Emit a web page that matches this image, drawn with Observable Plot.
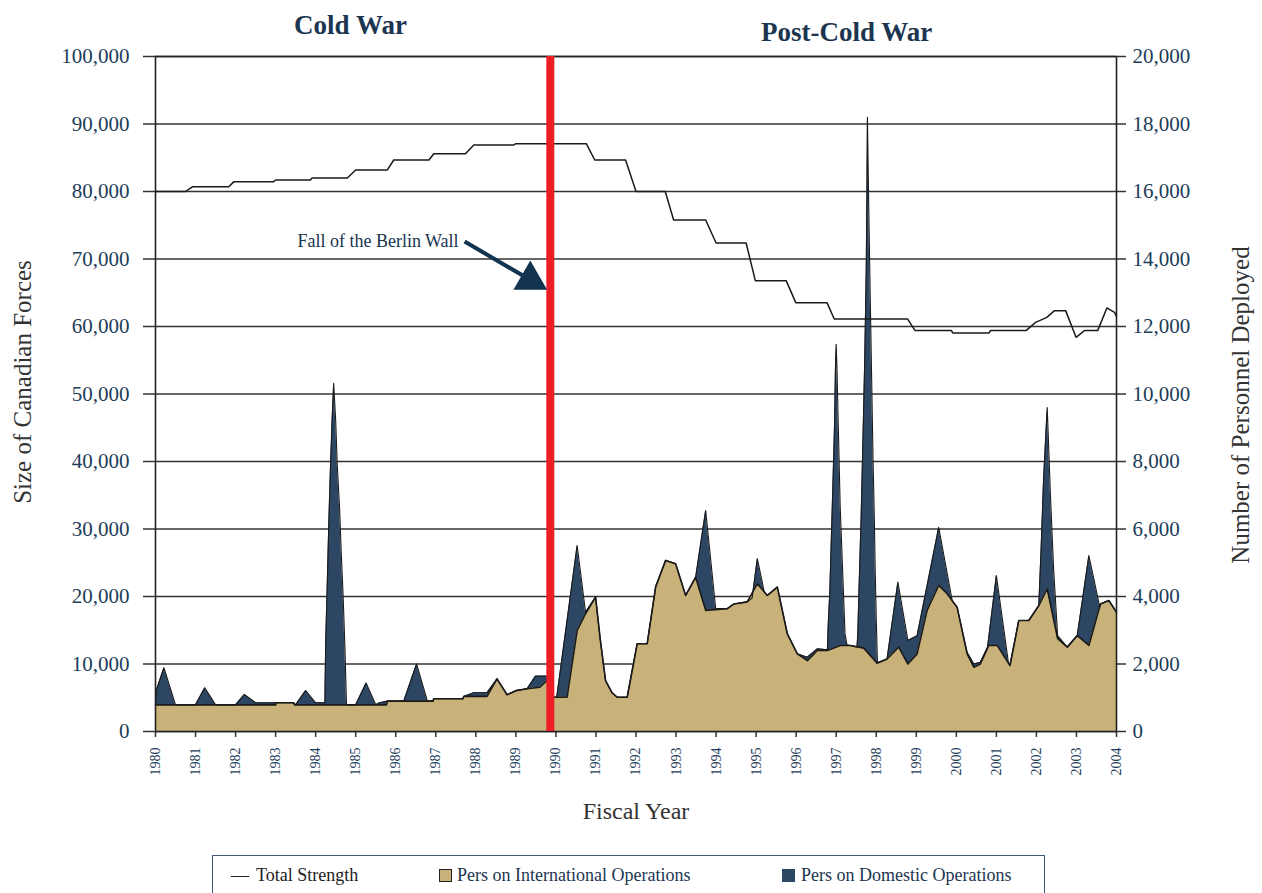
<!DOCTYPE html>
<html>
<head>
<meta charset="utf-8">
<script src="https://cdn.jsdelivr.net/npm/d3@7"></script>
<script src="https://cdn.jsdelivr.net/npm/@observablehq/plot@0.6"></script>
<style>
  body { margin: 0; background: #fff; font-family: "Liberation Serif", serif; }
  #wrap { position: relative; width: 1262px; height: 893px; overflow: hidden; background: #fff; }
  #wrap svg { position: absolute; left: 0; top: 0; }
  .legend { position: absolute; left: 212px; top: 855px; width: 833px; height: 60px; border: 1.5px solid #3e5a78; box-sizing: border-box; }
  .legend span { position: absolute; top: 8px; font-size: 18px; white-space: nowrap; line-height: 22px; }
  .sw { position: absolute; top: 13px; width: 11px; height: 11px; border: 1px solid #222; }
</style>
</head>
<body>
<div id="wrap">
  <div class="legend">
    <span style="left:18px;color:#222;">&#8212;</span>
    <span style="left:43px;color:#222;">Total Strength</span>
    <div class="sw" style="left:226px;background:#c9b27a;"></div>
    <span style="left:244px;color:#1c3550;">Pers on International Operations</span>
    <div class="sw" style="left:569px;background:#2c4664;border-color:#2c4664;"></div>
    <span style="left:588px;color:#1c3550;">Pers on Domestic Operations</span>
  </div>
</div>
<script>
// ---------- data ----------
const yearTicks = [1980, 1981, 1982, 1983, 1984, 1985, 1986, 1987, 1988, 1989, 1990, 1991, 1992,
  1993, 1994, 1995, 1996, 1997, 1998, 1999, 2000, 2001, 2002, 2003, 2004];
const strengthTicks = [0, 10000, 20000, 30000, 40000, 50000, 60000, 70000, 80000, 90000, 100000];
const deployedTicks = [0, 2000, 4000, 6000, 8000, 10000, 12000, 14000, 16000, 18000, 20000];

// Total strength of the Canadian Forces (left axis)
const strengthYears = [1980.0, 1980.75, 1980.92, 1981.83, 1981.96, 1982.95, 1983.0, 1983.87, 1983.91,
  1984.79, 1985.0, 1985.79, 1985.95, 1986.83, 1986.95, 1987.74, 1987.95, 1988.95, 1989.0, 1990.76,
  1990.97, 1991.74, 1992.0, 1992.73, 1992.94, 1993.74, 1994.0, 1994.75, 1994.98, 1995.75, 1995.99,
  1996.77, 1996.95, 1998.78, 1998.97, 1999.88, 1999.91, 2000.82, 2000.85, 2001.74, 2001.98, 2002.26,
  2002.45, 2002.73, 2002.99, 2003.2, 2003.53, 2003.76, 2003.95, 2004.0];
const strengthValues = [80000, 80000, 80700, 80700, 81460, 81460, 81700, 81700, 82000,
  82000, 83190, 83190, 84670, 84670, 85600, 85600, 86890, 86890, 87080, 87080,
  84670, 84670, 80000, 80000, 75780, 75780, 72370, 72370, 66790, 66790, 63530,
  63530, 61120, 61120, 59390, 59390, 59050, 59050, 59390, 59390, 60620, 61360,
  62350, 62350, 58400, 59390, 59390, 62750, 62100, 61500];

// Personnel on international operations (right axis)
const intlYears = [1980.0, 1983.0, 1983.02, 1983.45, 1983.47, 1985.77, 1985.79, 1986.93, 1986.95,
  1987.68, 1987.7, 1988.28, 1988.53, 1988.78, 1989.0, 1989.28, 1989.6, 1989.78, 1989.92, 1990.28,
  1990.53, 1990.74, 1990.99, 1991.11, 1991.24, 1991.4, 1991.53, 1991.78, 1992.03, 1992.28, 1992.49,
  1992.74, 1992.99, 1993.24, 1993.49, 1993.74, 1994.28, 1994.45, 1994.78, 1995.03, 1995.28, 1995.53,
  1995.78, 1996.03, 1996.28, 1996.53, 1996.78, 1997.1, 1997.36, 1997.69, 1998.02, 1998.27, 1998.56,
  1998.79, 1999.02, 1999.27, 1999.56, 1999.77, 2000.02, 2000.27, 2000.44, 2000.6, 2000.81, 2001.02,
  2001.34, 2001.56, 2001.81, 2002.06, 2002.27, 2002.53, 2002.77, 2003.02, 2003.31, 2003.6, 2003.81, 2004.0];
const intlValues = [790, 790, 850, 850, 790, 790, 900, 900, 970,
  970, 1040, 1040, 1560, 1090, 1210, 1265, 1310, 1510, 1015, 1015,
  2990, 3490, 3980, 2700, 1510, 1150, 1015, 1015, 2600, 2600, 4280,
  5070, 4970, 4030, 4570, 3590, 3640, 3780, 3840, 4380, 4030, 4280,
  2890, 2300, 2100, 2400, 2400, 2550, 2550, 2470, 2025, 2150, 2500,
  2000, 2300, 3590, 4330, 4080, 3680, 2300, 1900, 2000, 2550, 2550,
  1955, 3290, 3290, 3730, 4230, 2750, 2500, 2840, 2550, 3780, 3880, 3535];

// Top of the stack: international + domestic operations (right axis)
const deployedYears = [1980.0, 1980.02, 1980.21, 1980.5, 1981.0, 1981.23, 1981.5, 1982.0, 1982.22, 1982.5,
  1983.45, 1983.5, 1983.75, 1984.0, 1984.23, 1984.25, 1984.29, 1984.33, 1984.37, 1984.41, 1984.45,
  1984.5, 1984.54, 1984.6, 1984.64, 1984.69, 1984.73, 1984.77, 1985.0, 1985.26, 1985.5, 1985.6,
  1985.79, 1986.2, 1986.52, 1986.79, 1986.93, 1986.95, 1987.68, 1987.7, 1987.95, 1988.28, 1988.53,
  1988.78, 1989.0, 1989.28, 1989.49, 1989.78, 1989.92, 1990.02, 1990.53, 1990.74, 1990.99, 1991.11,
  1991.24, 1991.4, 1991.53, 1991.78, 1992.03, 1992.28, 1992.49, 1992.74, 1992.99, 1993.24, 1993.49,
  1993.74, 1993.99, 1994.28, 1994.45, 1994.78, 1994.9, 1995.03, 1995.2, 1995.28, 1995.53, 1995.78,
  1996.03, 1996.28, 1996.53, 1996.78, 1996.8, 1996.84, 1996.88, 1996.92, 1996.96, 1996.98, 1997.0,
  1997.02, 1997.05, 1997.1, 1997.16, 1997.22, 1997.27, 1997.36, 1997.52, 1997.54, 1997.57, 1997.6,
  1997.62, 1997.65, 1997.68, 1997.71, 1997.73, 1997.75, 1997.76, 1997.77, 1997.78, 1997.8, 1997.84,
  1997.88, 1997.92, 1997.95, 1997.97, 1998.0, 1998.03, 1998.27, 1998.54, 1998.79, 1999.02, 1999.56,
  1999.9, 2000.02, 2000.27, 2000.44, 2000.6, 2000.78, 2001.0, 2001.3, 2001.34, 2001.56, 2001.81,
  2002.06, 2002.12, 2002.18, 2002.27, 2002.35, 2002.43, 2002.53, 2002.77, 2003.02, 2003.31, 2003.58,
  2003.6, 2003.81, 2004.0];
const deployedValues = [790, 1215, 1890, 790, 790, 1295, 790, 790, 1095, 850,
  850, 790, 1215, 850, 850, 2600, 4385, 6250, 7830, 9215, 10320,
  9215, 7880, 6550, 5265, 3880, 2500, 790, 790, 1440, 790, 850,
  900, 900, 2000, 900, 900, 970, 970, 1040, 1150, 1150, 1560,
  1090, 1210, 1265, 1640, 1640, 1015, 1015, 5510, 3535, 3980, 2700,
  1510, 1150, 1015, 1015, 2600, 2600, 4280, 5070, 4970, 4030, 4570,
  6550, 3640, 3640, 3780, 3840, 3950, 5120, 4150, 4030, 4280, 2890,
  2300, 2200, 2450, 2420, 3140, 4120, 5760, 7400, 9150, 10700, 11470,
  10700, 9150, 6640, 4770, 2900, 2560, 2550, 2500, 2915, 4240, 5440,
  6200, 7730, 9270, 10870, 12240, 13660, 14970, 16500, 18200, 16500, 13540,
  10810, 8060, 6430, 5000, 3350, 2040, 2150, 4425, 2700, 2840, 6050,
  3860, 3680, 2350, 2000, 2050, 2500, 4620, 2050, 1955, 3290, 3290,
  3730, 5500, 7500, 9600, 7000, 4800, 2840, 2500, 2840, 5215, 3700,
  3780, 3880, 3535];

const berlinWallYear = 1989.86;

// ---------- tables ----------
const rows = (xs, vs) => xs.map((year, i) => ({year, value: vs[i]}));
const strengthRows = rows(strengthYears, strengthValues);
const intlRows = rows(intlYears, intlValues);
const deployedRows = rows(deployedYears, deployedValues);

// ---------- styles ----------
const TAN = "#c9b27a", NAVY = "#2c4664", RED = "#ee1c25";
const TICKTEXT = "#1d3d5a", TITLE = "#1c3550", DARK = "#1a1a1a";
const FONT = "'Liberation Serif', serif";
const W = 1262, H = 845;
const frame = {width: W, height: H, marginLeft: 155, marginRight: 146, marginTop: 56, marginBottom: 114};
const fmt = d3.format(",");

// Bottom layer: deployed personnel (right axis) and fiscal-year axis
const lower = Plot.plot({
  ...frame,
  style: {background: "transparent", fontFamily: FONT},
  x: {domain: [1980, 2004]},
  y: {domain: [0, 20000]},
  marks: [
    Plot.gridY(deployedTicks, {stroke: "#333", strokeOpacity: 1, strokeWidth: 1.6}),
    Plot.areaY(deployedRows, {x: "year", y: "value", fill: NAVY}),
    Plot.areaY(intlRows, {x: "year", y: "value", fill: TAN}),
    Plot.line(deployedRows, {x: "year", y: "value", stroke: DARK, strokeWidth: 1.1}),
    Plot.line(intlRows, {x: "year", y: "value", stroke: DARK, strokeWidth: 1.6}),
    Plot.axisY(deployedTicks, {anchor: "right", tickFormat: fmt, tickSize: 9, tickPadding: 7,
      fontSize: 21, fill: TICKTEXT, stroke: "#333", strokeWidth: 1.5, label: null}),
    Plot.axisX(yearTicks, {tickFormat: d => String(d), tickRotate: -90, tickSize: 6, tickPadding: 10,
      fontSize: 14, fill: TICKTEXT, stroke: "#333", strokeWidth: 1.5, label: null}),
    Plot.text(["Number of Personnel Deployed"], {frameAnchor: "right", textAnchor: "middle", dx: 124, dy: 11,
      rotate: -90, fontSize: 25, fill: "#333"}),
    Plot.text(["Fiscal Year"], {frameAnchor: "bottom", textAnchor: "middle", lineAnchor: "middle", dy: 80,
      fontSize: 24, fill: "#333"})
  ]
});

// Top layer: total strength (left axis), Berlin Wall marker and titles
const upper = Plot.plot({
  ...frame,
  style: {background: "transparent", fontFamily: FONT},
  x: {domain: [1980, 2004], axis: null},
  y: {domain: [0, 100000]},
  marks: [
    Plot.frame({stroke: "#222", strokeWidth: 1.6}),
    Plot.axisY(strengthTicks, {anchor: "left", tickFormat: fmt, tickSize: 12, tickPadding: 14,
      fontSize: 21, fill: TICKTEXT, stroke: "#333", strokeWidth: 1.5, label: null}),
    Plot.line(strengthRows, {x: "year", y: "value", stroke: DARK, strokeWidth: 1.5}),
    Plot.ruleX([berlinWallYear], {stroke: RED, strokeWidth: 8}),
    Plot.link([0], {x1: 1987.72, y1: 72590, x2: 1989.3, y2: 67100, stroke: "#123450", strokeWidth: 4}),
    Plot.dot([0], {x: 1989.36, y: 66900, symbol: "triangle", r: 12.5, fill: "#123450", stroke: "none", rotate: 120}),
    Plot.text(["Fall of the Berlin Wall"], {x: 1987.57, y: 72590, textAnchor: "end", fontSize: 18, fill: "#173451"}),
    Plot.text(["Cold War"], {x: 1984.87, frameAnchor: "top", textAnchor: "middle", dy: -42, fontSize: 27,
      fontWeight: "bold", fill: TITLE}),
    Plot.text(["Post-Cold War"], {x: 1997.26, frameAnchor: "top", textAnchor: "middle", dy: -35, fontSize: 27,
      fontWeight: "bold", fill: TITLE}),
    Plot.text(["Size of Canadian Forces"], {frameAnchor: "left", textAnchor: "middle", dx: -133, dy: -12,
      rotate: -90, fontSize: 25, fill: "#333"})
  ]
});

const wrap = document.getElementById("wrap");
wrap.insertBefore(upper, wrap.firstChild);
wrap.insertBefore(lower, wrap.firstChild);
</script>
</body>
</html>
